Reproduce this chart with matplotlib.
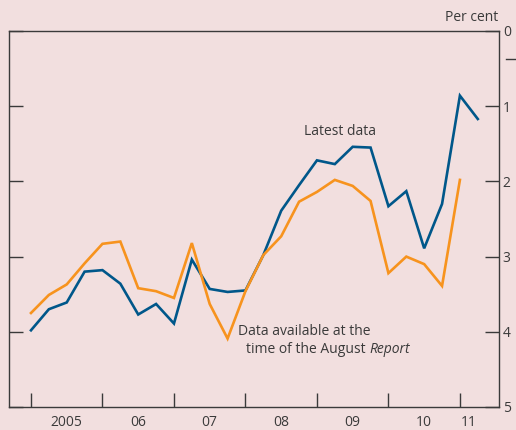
import numpy as np
import matplotlib
matplotlib.use('Agg')
import matplotlib.pyplot as plt
from matplotlib.lines import Line2D

plt.rcParams['font.family'] = ['Open Sans', 'DejaVu Sans']

# Quarterly data, 2005 Q1 onwards (per cent, axis inverted)
latest = [3.98, 3.70, 3.61, 3.20, 3.18, 3.36, 3.77, 3.63, 3.89, 3.04, 3.43, 3.47, 3.45,
          2.98, 2.39, 2.05, 1.72, 1.77, 1.54, 1.55, 2.33, 2.13, 2.89, 2.30, 0.86, 1.17]
august = [3.75, 3.51, 3.37, 3.09, 2.83, 2.80, 3.42, 3.46, 3.55, 2.82, 3.63, 4.09, 3.46,
          2.98, 2.73, 2.27, 2.14, 1.98, 2.06, 2.26, 3.22, 3.00, 3.10, 3.39, 1.98]
year_labels = ['2005', '06', '07', '08', '09', '10', '11']

bg = '#f2dfdf'
blue = '#00578a'
orange = '#f7931e'
ink = '#3a3a3a'

fig = plt.figure(figsize=(5.16, 4.30), dpi=100, facecolor=bg)
ax = fig.add_axes([9/516, 23/430, 489.7/516, 376/430])
ax.set_facecolor(bg)

ax.plot(np.arange(len(latest)), latest, color=blue, linewidth=1.9, solid_joinstyle='miter')
ax.plot(np.arange(len(august)), august, color=orange, linewidth=1.9, solid_joinstyle='miter')

ax.set_xlim(-1.23, 26.17)
ax.set_ylim(5, 0)

# x ticks at start of each year, labels in middle
ax.set_xticks(np.arange(0, 25, 4))
ax.set_xticklabels([])
ax.set_xticks([2, 6, 10, 14, 18, 22, 24.5], minor=True)
ax.set_xticklabels(year_labels, minor=True)
ax.tick_params(axis='x', which='major', direction='in', length=10, width=1, color=ink)
ax.tick_params(axis='x', which='minor', length=0, pad=6, labelsize=10, labelcolor=ink)

ax.set_yticks(range(6))
ax.yaxis.tick_right()
ax.tick_params(axis='y', which='major', direction='in', length=10, width=1, color=ink,
               left=True, right=True, labelleft=False, labelright=True,
               pad=3, labelsize=10, labelcolor=ink)

for s in ax.spines.values():
    s.set_color(ink)
    s.set_linewidth(1)

ax.text(26.17, -0.08, 'Per cent', ha='right', va='bottom', fontsize=10, color=ink)
fig.add_artist(Line2D([506/516, 516/516], [1 - 59/430, 1 - 59/430], color=ink, linewidth=1))

ax.text(17.3, 1.34, 'Latest data', ha='center', va='center', fontsize=10, color=ink)
ax.text(11.58, 4.0, 'Data available at the', ha='left', va='center', fontsize=10, color=ink)
t = ax.text(12.03, 4.24, 'time of the August ', ha='left', va='center', fontsize=10, color=ink)
fig.canvas.draw()
bb = t.get_window_extent().transformed(ax.transData.inverted())
ax.text(bb.x1, 4.24, 'Report', ha='left', va='center', fontsize=10, color=ink, style='italic')

fig.savefig('out.png', dpi=100, facecolor=bg)
